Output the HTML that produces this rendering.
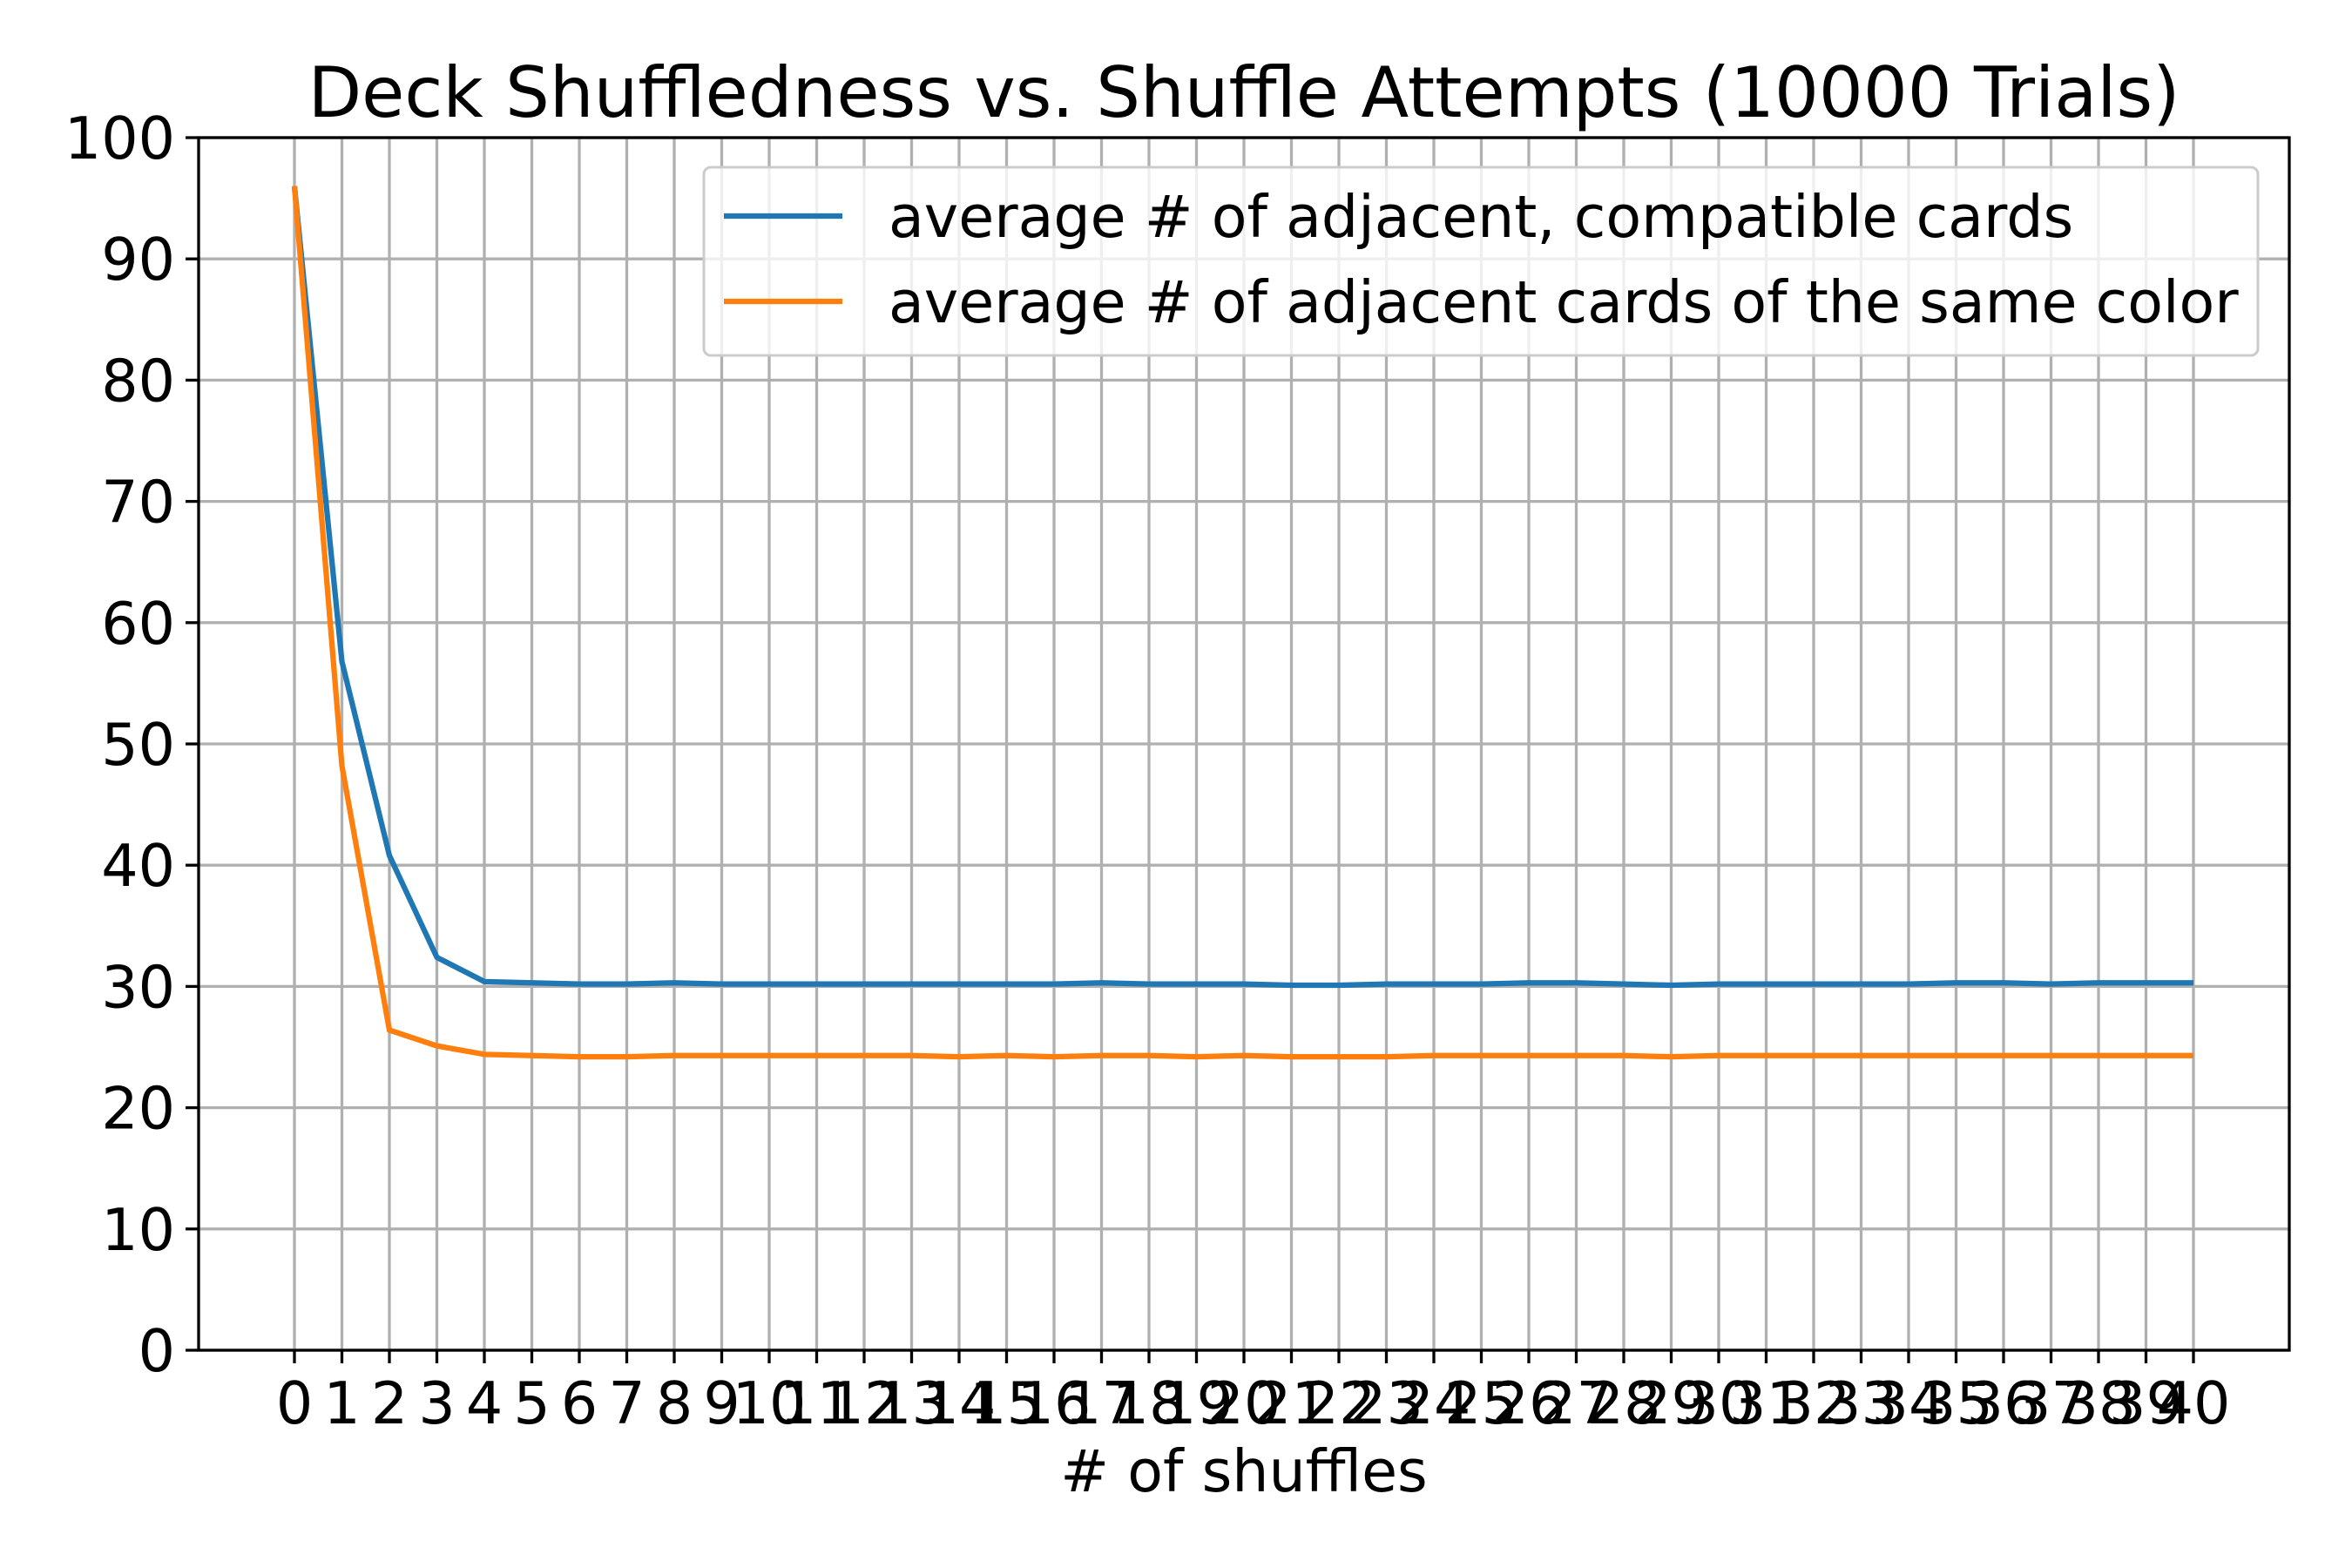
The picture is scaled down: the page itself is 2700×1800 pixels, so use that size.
<!DOCTYPE html>
<html><head><meta charset="utf-8"><style>
html,body{margin:0;padding:0;background:#fff;}
svg{display:block;font-family:"DejaVu Sans","Liberation Sans",sans-serif;}
</style></head><body>
<svg id="chart" width="2700" height="1800" viewBox="0 0 2700 1800" xmlns="http://www.w3.org/2000/svg">
<rect width="2700" height="1800" fill="#fff"/>
<text x="1428" y="134" font-size="80" text-anchor="middle">Deck Shuffledness vs. Shuffle Attempts (10000 Trials)</text>
<g id="grid"></g>
<g id="series"></g>
<rect x="228" y="158" width="2400" height="1392" fill="none" stroke="#000" stroke-width="3.3"/>
<g id="ticks"></g>
<text x="1428" y="1712" font-size="66.6" text-anchor="middle"># of shuffles</text>
<g>
<rect x="808" y="192" width="1784" height="216" rx="8" fill="#fff" fill-opacity="0.8" stroke="#ccc" stroke-width="3"/>
<line x1="831" y1="248" x2="967" y2="248" stroke="#1f77b4" stroke-width="6.25"/>
<text x="1020" y="272" font-size="66.6">average # of adjacent, compatible cards</text>
<line x1="831" y1="346" x2="967" y2="346" stroke="#ff7f0e" stroke-width="6.25"/>
<text x="1020" y="370" font-size="66.6">average # of adjacent cards of the same color</text>
</g>
</svg>
<script>
const shuffles = Array.from({length:41},(_, i)=>i);
const compatible = [96,56.8,40.8,32.4,30.4,30.3,30.2,30.2,30.3,30.2,30.2,30.2,30.2,30.2,30.2,30.2,30.2,30.3,30.2,30.2,30.2,30.1,30.1,30.2,30.2,30.2,30.3,30.3,30.2,30.1,30.2,30.2,30.2,30.2,30.2,30.3,30.3,30.2,30.3,30.3,30.3];
const sameColor = [96,48.2,26.4,25.1,24.4,24.3,24.2,24.2,24.3,24.3,24.3,24.3,24.3,24.3,24.2,24.3,24.2,24.3,24.3,24.2,24.3,24.2,24.2,24.2,24.3,24.3,24.3,24.3,24.3,24.2,24.3,24.3,24.3,24.3,24.3,24.3,24.3,24.3,24.3,24.3,24.3];
const yTicks = [0,10,20,30,40,50,60,70,80,90,100];

const NS="http://www.w3.org/2000/svg";
const X0=228,X1=2628,Y0=158,Y1=1550;
const xs = v => 338 + v*(2518-338)/40;
const ys = v => Y1 - v*(Y1-Y0)/100;
function mk(tag,attrs,parent){const e=document.createElementNS(NS,tag);for(const k in attrs)e.setAttribute(k,attrs[k]);parent.appendChild(e);return e;}
const grid=document.getElementById('grid'),ticks=document.getElementById('ticks'),series=document.getElementById('series');
shuffles.forEach(s=>{
  const g=mk('line',{x1:xs(s),x2:xs(s),y1:Y0,y2:Y1,stroke:'#b0b0b0','stroke-width':3.3},grid);
  
  
  const t=mk('line',{x1:xs(s),x2:xs(s),y1:Y1,y2:Y1+15,stroke:'#000','stroke-width':3.3},ticks);
  
  
  const l=mk('text',{x:xs(s),y:1634,'font-size':66.6,'text-anchor':'middle'},ticks);
  l.textContent=String(s);
  
  
});
yTicks.forEach(v=>{
  const g=mk('line',{x1:X0,x2:X1,y1:ys(v),y2:ys(v),stroke:'#b0b0b0','stroke-width':3.3},grid);
  
  
  const t=mk('line',{x1:X0-15,x2:X0,y1:ys(v),y2:ys(v),stroke:'#000','stroke-width':3.3},ticks);
  
  
  const l=mk('text',{x:201,y:ys(v)+24,'font-size':66.6,'text-anchor':'end'},ticks);
  l.textContent=String(v);
  
  
});
function drawLine(vals,color,name){
  const p=mk('polyline',{points:vals.map((v,i)=>xs(shuffles[i])+','+ys(v)).join(' '),fill:'none',stroke:color,'stroke-width':6.25,'stroke-linejoin':'round'},series);
  
  
}
drawLine(compatible,'#1f77b4','line-compatible-cards');
drawLine(sameColor,'#ff7f0e','line-same-color-cards');
</script>
</body></html>
